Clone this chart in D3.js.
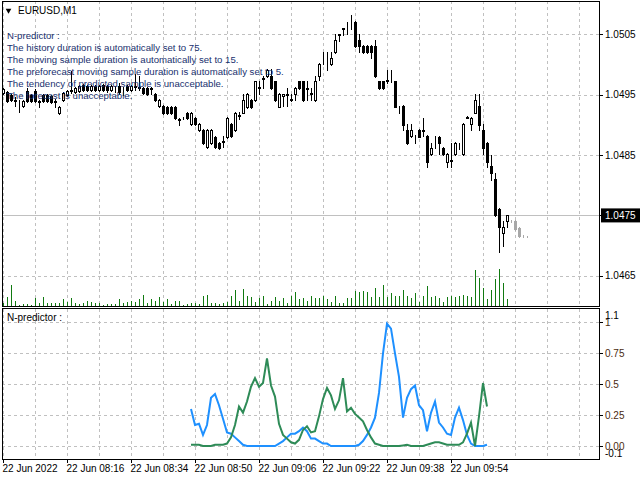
<!DOCTYPE html>
<html>
<head>
<meta charset="utf-8">
<script src="https://cdn.jsdelivr.net/npm/d3@7/dist/d3.min.js"></script>
<style>
  body { margin: 0; background: #fff; }
  svg { display: block; font-family: "Liberation Sans", Arial, sans-serif; }
</style>
</head>
<body>
<div id="chart"></div>
<script>
var svgWidth = 640;
var svgHeight = 480;

// EURUSD M1 bars, one per minute slot on the chart
var opens = [1.04953,1.04954,1.04950,1.04941,1.04940,1.04931,1.04956,1.04950,1.04956,1.04940,
  1.04950,1.04950,1.04948,1.04940,1.04920,1.04941,1.04950,1.04956,1.04954,1.04956,
  1.04966,1.04964,1.04958,1.04964,1.04958,1.04966,1.04964,1.04958,1.04961,1.04964,
  1.04961,1.04964,1.04958,1.04964,1.04963,1.04961,1.04961,1.04961,1.04951,1.04931,
  1.04931,1.04930,1.04930,1.04930,1.04910,1.04911,1.04920,1.04901,1.04911,1.04891,
  1.04891,1.04863,1.04870,1.04880,1.04870,1.04872,1.04880,1.04901,1.04891,1.04915,
  1.04920,1.04930,1.04941,1.04941,1.04961,1.04976,1.04980,1.04981,1.04972,1.04930,
  1.04948,1.04950,1.04943,1.04951,1.04972,1.04972,1.04961,1.04951,1.04941,1.04981,
  1.05010,1.05011,1.05001,1.05020,1.05049,1.05059,1.05068,1.05060,1.05071,1.05041,
  1.05031,1.05031,1.05031,1.05031,1.04972,1.04972,1.04973,1.04973,1.04972,1.04930,
  1.04931,1.04891,1.04882,1.04882,1.04891,1.04891,1.04882,1.04852,1.04872,1.04880,
  1.04862,1.04839,1.04840,1.04852,1.04862,1.04852,1.04913,1.04901,1.04920,1.04931,
  1.04891,1.04870,1.04831,1.04810,1.04760,1.04721,1.04740];
var highs = [1.04961,1.04956,1.04951,1.04946,1.04941,1.04941,1.04961,1.04951,1.04959,1.04941,
  1.04951,1.04951,1.04950,1.04943,1.04931,1.04954,1.04958,1.04989,1.04963,1.04966,
  1.04968,1.04966,1.04966,1.04966,1.04966,1.04968,1.04966,1.04966,1.04964,1.04969,
  1.04963,1.04966,1.04966,1.04984,1.04981,1.04963,1.04963,1.04963,1.04953,1.04943,
  1.04933,1.04931,1.04931,1.04931,1.04911,1.04913,1.04921,1.04921,1.04913,1.04903,
  1.04893,1.04893,1.04893,1.04882,1.04872,1.04882,1.04913,1.04903,1.04921,1.04921,
  1.04951,1.04953,1.04943,1.04973,1.04973,1.04981,1.04993,1.04993,1.04973,1.04953,
  1.04951,1.04961,1.04951,1.04963,1.04973,1.04973,1.04973,1.04961,1.04981,1.05003,
  1.05021,1.05021,1.05020,1.05051,1.05051,1.05061,1.05071,1.05081,1.05072,1.05051,
  1.05032,1.05032,1.05032,1.05041,1.04973,1.04973,1.04991,1.04991,1.04973,1.04931,
  1.04933,1.04901,1.04901,1.04883,1.04893,1.04911,1.04883,1.04870,1.04882,1.04882,
  1.04863,1.04853,1.04870,1.04872,1.04870,1.04903,1.04915,1.04913,1.04951,1.04951,
  1.04901,1.04872,1.04850,1.04820,1.04762,1.04740,1.04750];
var lows = [1.04951,1.04938,1.04940,1.04931,1.04921,1.04930,1.04938,1.04938,1.04938,1.04930,
  1.04938,1.04938,1.04936,1.04930,1.04918,1.04940,1.04948,1.04953,1.04953,1.04954,
  1.04956,1.04956,1.04956,1.04956,1.04956,1.04956,1.04954,1.04956,1.04954,1.04951,
  1.04950,1.04956,1.04956,1.04958,1.04958,1.04951,1.04950,1.04951,1.04940,1.04930,
  1.04918,1.04918,1.04918,1.04910,1.04900,1.04910,1.04910,1.04900,1.04900,1.04890,
  1.04868,1.04862,1.04868,1.04862,1.04860,1.04863,1.04878,1.04880,1.04890,1.04910,
  1.04920,1.04928,1.04928,1.04940,1.04951,1.04961,1.04979,1.04959,1.04940,1.04930,
  1.04931,1.04931,1.04940,1.04941,1.04959,1.04940,1.04941,1.04941,1.04940,1.04974,
  1.05001,1.04991,1.04999,1.05019,1.05039,1.05049,1.05051,1.05059,1.05029,1.05020,
  1.05019,1.05019,1.05011,1.04979,1.04959,1.04959,1.04970,1.04971,1.04930,1.04920,
  1.04891,1.04869,1.04880,1.04870,1.04879,1.04882,1.04830,1.04850,1.04862,1.04852,
  1.04850,1.04830,1.04830,1.04850,1.04860,1.04850,1.04911,1.04891,1.04920,1.04891,
  1.04852,1.04830,1.04809,1.04749,1.04690,1.04699,1.04731];
var closes = [1.04959,1.04940,1.04941,1.04940,1.04940,1.04940,1.04940,1.04940,1.04940,1.04938,
  1.04940,1.04940,1.04938,1.04938,1.04930,1.04953,1.04956,1.04958,1.04961,1.04964,
  1.04958,1.04958,1.04964,1.04958,1.04964,1.04958,1.04958,1.04964,1.04961,1.04954,
  1.04961,1.04958,1.04964,1.04963,1.04961,1.04953,1.04951,1.04959,1.04941,1.04941,
  1.04920,1.04920,1.04920,1.04911,1.04908,1.04911,1.04911,1.04920,1.04901,1.04901,
  1.04870,1.04891,1.04891,1.04863,1.04862,1.04873,1.04911,1.04882,1.04920,1.04916,
  1.04941,1.04951,1.04930,1.04972,1.04963,1.04978,1.04991,1.04961,1.04941,1.04951,
  1.04951,1.04951,1.04941,1.04961,1.04961,1.04941,1.04959,1.04953,1.04972,1.05001,
  1.05011,1.05010,1.05011,1.05040,1.05050,1.05060,1.05069,1.05061,1.05030,1.05030,
  1.05020,1.05020,1.05020,1.04980,1.04961,1.04961,1.04974,1.04972,1.04930,1.04929,
  1.04900,1.04870,1.04891,1.04881,1.04880,1.04890,1.04839,1.04862,1.04871,1.04870,
  1.04852,1.04852,1.04841,1.04870,1.04861,1.04901,1.04912,1.04911,1.04941,1.04900,
  1.04862,1.04839,1.04820,1.04750,1.04731,1.04731,1.04750];
var volumes = [14,47,105,27,7,10,10,7,40,17, 45,17,14,17,14,35,22,40,14,10,
  14,25,20,14,17,7,10,10,10,35, 17,22,27,22,35,55,17,35,27,45,
  22,35,10,25,25,7,10,17,14,10, 50,55,17,14,10,17,22,50,80,27,
  85,50,45,22,40,50,10,25,45,27, 40,17,50,70,35,
  42,25,52,42,42,52,35,22,52,17, 17,42,42,77,72,77,72,47,92,47,
  105,47,67,52,52,80,52,42,67,22, 52,100,47,52,42,22,47,52,47,52,
  55,52,47,180,142,92,35,80,135,185, 117,35];

// forecast bars drawn in grey after the last real bar
var fOpens  = [1.04741,1.04741,1.04729,1.04716,1.04715];
var fHighs  = [1.04743,1.04742,1.04730,1.04717,1.04716];
var fLows   = [1.04739,1.04726,1.04715,1.04715,1.04714];
var fCloses = [1.04741,1.04727,1.04716,1.04716,1.04715];

// N-predictor sub window, 75 values starting at bar 47
var indStart = 47;
var blueSeries = [0.30,0.17,0.18,0.09,0.17,0.39,0.42,0.33,0.22,0.11,
  0.10,0.07,0.04,0.01,0,0,0,0,0,0,
  0,0,0.02,0.04,0.07,0.10,0.10,0.12,0.15,0.12,
  0.06,0.06,0.04,0.02,0.02,0,0,0,0,0,
  0,0,0.01,0.04,0.09,0.15,0.23,0.43,0.75,0.99,
  0.95,0.75,0.56,0.23,0.39,0.46,0.49,0.33,0.29,0.12,
  0.27,0.36,0.19,0.15,0.10,0.09,0.23,0.31,0.21,0.09,
  0.02,0,0,0,0.01];
var greenSeries = [0.01,0.01,0.01,0,0,0,0.01,0.01,0.01,0.02,
  0.07,0.17,0.32,0.27,0.36,0.48,0.55,0.48,0.51,0.71,
  0.49,0.40,0.18,0.09,0.06,0.03,0.02,0.05,0.13,0.16,
  0.11,0.12,0.24,0.38,0.47,0.41,0.30,0.37,0.55,0.28,
  0.31,0.26,0.23,0.20,0.13,0.07,0.02,0.01,0,0,
  0,0,0,0.005,0.01,0,0,0,0,0.01,
  0.02,0.03,0.03,0.02,0.01,0.01,0.01,0.01,0.03,0.10,
  0.19,0,0.24,0.51,0.32];

var priceTicks = [1.0505, 1.0495, 1.0485, 1.0475, 1.0465];
var bidPrice = 1.0475;
var indTicks = [1, 0.75, 0.5, 0.25, 0];
var indTickLabels = ["1", "0.75", "0.5", "0.25", "0.00"];
var timeLabels = ["22 Jun 2022", "22 Jun 08:16", "22 Jun 08:34", "22 Jun 08:50",
  "22 Jun 09:06", "22 Jun 09:22", "22 Jun 09:38", "22 Jun 09:54"];
var commentLines = ["N-predictor :",
  "The history duration is automatically set to 75.",
  "The moving sample duration is automatically set to 15.",
  "The preforecast moving sample duration is automatically set to 5.",
  "The tendency of predicted sample is unacceptable.",
  "The forecast is unacceptable."];

var plotLeft = 2, plotRight = 599;
var mainTop = 1, mainBottom = 306;
var subTop = 308.5, subBottom = 459;

var svg = d3.select("#chart").append("svg")
    .attr("width", svgWidth)
    .attr("height", svgHeight);

svg.append("rect").attr("width", svgWidth).attr("height", svgHeight).attr("fill", "#fff");

// bar index -> x, 4px per bar
var x = d3.scaleLinear().domain([0, 149]).range([3, 599]);
var yPrice = d3.scaleLinear().domain([1.04600, 1.05105]).range([mainBottom, mainTop]);
var yVol = d3.scaleLinear().domain([0, 185]).range([mainBottom, 269]);
var yInd = d3.scaleLinear().domain([-0.105, 1.113]).range([subBottom, subTop]);

var gridIdx = d3.range(0, 145, 8);

// grid
var grid = svg.append("g")
    .attr("stroke", "#c0c0c0")
    .attr("stroke-dasharray", "3,3")
    .attr("shape-rendering", "crispEdges");

grid.selectAll(".vg").data(gridIdx).enter().append("line")
    .attr("x1", d => Math.round(x(d)) + 0.5).attr("x2", d => Math.round(x(d)) + 0.5)
    .attr("y1", mainTop).attr("y2", mainBottom);
grid.selectAll(".vg2").data(gridIdx).enter().append("line")
    .attr("x1", d => Math.round(x(d)) + 0.5).attr("x2", d => Math.round(x(d)) + 0.5)
    .attr("y1", subTop).attr("y2", subBottom);
grid.selectAll(".hg").data(priceTicks.filter(d => d != bidPrice)).enter().append("line")
    .attr("x1", plotLeft).attr("x2", plotRight)
    .attr("y1", d => Math.round(yPrice(d)) + 0.5).attr("y2", d => Math.round(yPrice(d)) + 0.5);
grid.selectAll(".hg2").data(indTicks).enter().append("line")
    .attr("x1", plotLeft).attr("x2", plotRight)
    .attr("y1", d => Math.round(yInd(d)) + 0.5).attr("y2", d => Math.round(yInd(d)) + 0.5);

// bid line
svg.append("line")
    .attr("x1", plotLeft).attr("x2", plotRight)
    .attr("y1", Math.round(yPrice(bidPrice)) + 0.5).attr("y2", Math.round(yPrice(bidPrice)) + 0.5)
    .attr("stroke", "#c0c0c0")
    .attr("shape-rendering", "crispEdges");

// volumes
svg.append("g").selectAll("line").data(volumes).enter().append("line")
    .attr("x1", (d, i) => Math.round(x(i)) + 0.5)
    .attr("x2", (d, i) => Math.round(x(i)) + 0.5)
    .attr("y1", mainBottom)
    .attr("y2", d => yVol(d))
    .attr("stroke", "#117a11")
    .attr("shape-rendering", "crispEdges");

// candles
function drawCandles(o, h, l, c, offset, color) {
    var bars = o.map(function (v, i) {
        return { i: i + offset, o: v, h: h[i], l: l[i], c: c[i] };
    });
    var g = svg.append("g").attr("shape-rendering", "crispEdges");
    var candle = g.selectAll("g").data(bars).enter().append("g");

    candle.append("line")
        .attr("x1", d => Math.round(x(d.i)) + 0.5)
        .attr("x2", d => Math.round(x(d.i)) + 0.5)
        .attr("y1", d => Math.round(yPrice(d.h)))
        .attr("y2", d => Math.round(yPrice(d.l)) + 1)
        .attr("stroke", color);

    candle.append("rect")
        .attr("x", d => Math.round(x(d.i)) - 0.5)
        .attr("y", d => Math.round(yPrice(Math.max(d.o, d.c))) + 0.5)
        .attr("width", 2)
        .attr("height", d => Math.max(0, Math.round(yPrice(Math.min(d.o, d.c))) - Math.round(yPrice(Math.max(d.o, d.c)))))
        .attr("fill", d => d.c > d.o ? "#fff" : color)
        .attr("stroke", color);
}
drawCandles(opens, highs, lows, closes, 0, "#000");
drawCandles(fOpens, fHighs, fLows, fCloses, opens.length, "#a8a8a8");

// indicator lines
var line = d3.line()
    .x((d, i) => x(i + indStart))
    .y(d => yInd(d));

svg.append("path").datum(blueSeries)
    .attr("d", line)
    .attr("fill", "none")
    .attr("stroke", "#1e90ff")
    .attr("stroke-width", 2);

svg.append("path").datum(greenSeries)
    .attr("d", line)
    .attr("fill", "none")
    .attr("stroke", "#2e8b57")
    .attr("stroke-width", 2);

// frames
svg.append("rect")
    .attr("x", plotLeft + 0.5).attr("y", mainTop + 0.5)
    .attr("width", plotRight - plotLeft).attr("height", mainBottom - mainTop)
    .attr("fill", "none").attr("stroke", "#000")
    .attr("shape-rendering", "crispEdges");
svg.append("rect")
    .attr("x", plotLeft + 0.5).attr("y", subTop)
    .attr("width", plotRight - plotLeft).attr("height", subBottom - subTop)
    .attr("fill", "none").attr("stroke", "#000")
    .attr("shape-rendering", "crispEdges");

// price axis on the right
var priceAxis = svg.append("g");
priceAxis.selectAll("line").data(priceTicks).enter().append("line")
    .attr("x1", plotRight).attr("x2", plotRight + 4)
    .attr("y1", d => Math.round(yPrice(d)) + 0.5).attr("y2", d => Math.round(yPrice(d)) + 0.5)
    .attr("stroke", "#000").attr("shape-rendering", "crispEdges");

priceAxis.append("rect")
    .attr("x", plotRight + 2).attr("y", yPrice(bidPrice) - 7)
    .attr("width", 40).attr("height", 14)
    .attr("fill", "#000");

priceAxis.selectAll("text").data(priceTicks).enter().append("text")
    .attr("x", plotRight + 6)
    .attr("y", d => yPrice(d) + 3.5)
    .attr("font-size", "10px")
    .attr("fill", d => d == bidPrice ? "#fff" : "#000")
    .text(d => d3.format(".4f")(d));

// indicator axis
var indAxis = svg.append("g");
indAxis.selectAll("line").data(indTicks).enter().append("line")
    .attr("x1", plotRight).attr("x2", plotRight + 4)
    .attr("y1", d => Math.round(yInd(d)) + 0.5).attr("y2", d => Math.round(yInd(d)) + 0.5)
    .attr("stroke", "#000").attr("shape-rendering", "crispEdges");
indAxis.selectAll("text").data(indTicks).enter().append("text")
    .attr("x", plotRight + 6)
    .attr("y", d => yInd(d) + 3.5)
    .attr("font-size", "10px")
    .attr("fill", "#4a2a10")
    .text((d, i) => indTickLabels[i]);
indAxis.append("text")
    .attr("x", plotRight + 6).attr("y", subTop + 10)
    .attr("font-size", "10px").text("1.1");
indAxis.append("text")
    .attr("x", plotRight + 6).attr("y", subBottom - 2)
    .attr("font-size", "10px").text("-0.1");

// time axis
var timeAxis = d3.axisBottom(x)
    .tickValues(d3.range(0, timeLabels.length * 16, 16))
    .tickSize(4)
    .tickFormat((d, i) => timeLabels[i]);

var tg = svg.append("g")
    .attr("transform", `translate(0, ${subBottom})`)
    .call(timeAxis);
tg.select(".domain").remove();
tg.selectAll("text")
    .attr("text-anchor", "start")
    .attr("dx", "-1px")
    .attr("y", 6)
    .attr("font-size", "10px")
    .attr("font-family", "Liberation Sans, Arial, sans-serif")
    .attr("fill", "#000");

// titles and comment
svg.append("path")
    .attr("d", d3.symbol().type(d3.symbolTriangle).size(14)())
    .attr("transform", "translate(8.5, 10.5) rotate(180)")
    .attr("fill", "#000");
svg.append("text")
    .attr("x", 18).attr("y", 14)
    .attr("font-size", "10px")
    .text("EURUSD,M1");

svg.append("text")
    .attr("x", 7).attr("y", 321)
    .attr("font-size", "10px")
    .text("N-predictor :");

svg.append("g").selectAll("text").data(commentLines).enter().append("text")
    .attr("x", 7)
    .attr("y", (d, i) => 39 + i * 11.9)
    .attr("font-size", "9.6px")
    .attr("fill", "#18306e")
    .text(d => d);
</script>
</body>
</html>
